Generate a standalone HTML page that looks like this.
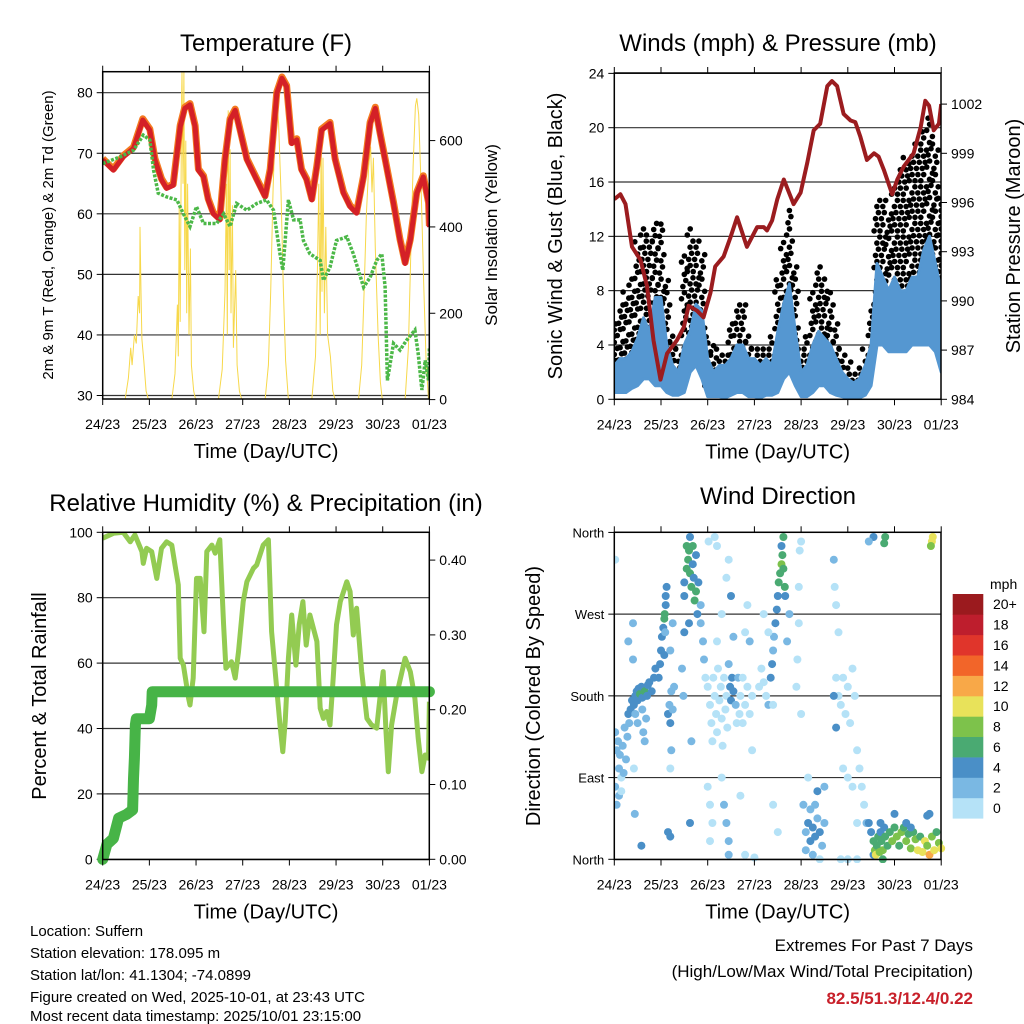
<!DOCTYPE html>
<html><head><meta charset="utf-8"><style>
html,body{margin:0;padding:0;background:#fff;}
svg{display:block;font-family:"Liberation Sans",Arial,sans-serif;}
</style></head><body>
<svg id="s" width="1024" height="1024" viewBox="0 0 1024 1024" xmlns="http://www.w3.org/2000/svg">
<defs>
<clipPath id="c1"><rect x="102.7" y="71.7" width="326.6" height="327.5"/></clipPath>
<clipPath id="c2"><rect x="614.3" y="73" width="326.7" height="326.5"/></clipPath>
<clipPath id="c3"><rect x="102.7" y="532.3" width="326.6" height="327.2"/></clipPath>
<clipPath id="c4"><rect x="614.3" y="527" width="331" height="336"/></clipPath>
</defs>
<g><text x="266" y="51" font-size="24" text-anchor="middle">Temperature (F)</text></g>
<g><text x="778" y="51" font-size="24" text-anchor="middle">Winds (mph) &amp; Pressure (mb)</text></g>
<g><text x="266" y="511" font-size="24" text-anchor="middle">Relative Humidity (%) &amp; Precipitation (in)</text></g>
<g><text x="778" y="504" font-size="24" text-anchor="middle">Wind Direction</text></g>
<g id="g1"></g>
<g id="g2"></g>
<g id="g3"></g>
<g id="g4"></g>
<g font-size="15">
<text x="30" y="936">Location: Suffern</text>
<text x="30" y="958">Station elevation: 178.095 m</text>
<text x="30" y="980">Station lat/lon: 41.1304; -74.0899</text>
<text x="30" y="1002">Figure created on Wed, 2025-10-01, at 23:43 UTC</text>
<text x="30" y="1024" dy="-3">Most recent data timestamp: 2025/10/01 23:15:00</text>
</g>
<g text-anchor="end" font-size="17">
<text x="973" y="951">Extremes For Past 7 Days</text>
<text x="973" y="977">(High/Low/Max Wind/Total Precipitation)</text>
<text x="973" y="1004" fill="#c8202a" font-weight="bold">82.5/51.3/12.4/0.22</text>
</g>
</svg>
<script>
// ---------- DATA ----------
const dayLabels = ["24/23","25/23","26/23","27/23","28/23","29/23","30/23","01/23"];
const tempT = [0,.23,.44,.66,.86,1.01,1.12,1.26,1.37,1.51,1.66,1.76,1.87,1.98,2.05,2.16,2.26,2.37,2.51,2.62,2.73,2.84,2.94,3.09,3.3,3.48,3.59,3.73,3.84,3.94,4.05,4.16,4.26,4.37,4.48,4.59,4.69,4.87,4.98,5.16,5.3,5.44,5.59,5.73,5.84,5.94,6.05,6.23,6.37,6.48,6.59,6.73,6.87,6.98,7.0];
const tempVal = [68.9,67.2,69.4,70.8,75.5,73.8,68.9,65.6,64.2,64.7,74.4,77.4,78,74.4,67.2,66.1,62.3,60,59,68.9,75.5,77.1,73.8,68.9,65.6,62.8,67.2,79.9,82.4,81,71.6,72.2,67.2,65.6,62.3,67.8,73.8,74.9,68.9,63.4,61.2,60.1,66.1,74.9,77.4,73.3,68.9,61.7,55.6,51.8,55.6,63.4,66.1,61.7,57.8];
const dewT = [0,.37,.66,.87,1.01,1.09,1.19,1.37,1.59,1.73,1.87,2.01,2.16,2.44,2.59,2.73,2.87,3.09,3.3,3.51,3.66,3.8,3.86,3.98,4.09,4.23,4.3,4.44,4.66,4.73,4.87,5.01,5.23,5.37,5.59,5.73,5.87,5.98,6.05,6.1,6.23,6.37,6.51,6.69,6.76,6.84,6.91,6.98,7.0];
const dewVal = [68.3,69.4,70.5,73,72.2,67.2,63.4,62.8,62.3,60,57.9,61.2,58.4,58.4,60,57.9,61.7,60.6,61.7,62.3,60.6,53.4,50.7,62.3,59,59,55.6,53.4,52.3,49,51.2,55.6,56.2,53.4,47.9,49.5,52.3,53.4,47.9,32.5,38.6,37.5,39.1,40.8,36.9,30.9,35.8,32.5,38];
const solarT = [0.48,0.55,0.6,0.63,0.68,0.72,0.76,0.79,0.8,0.82,0.84,0.88,0.93,0.98,
 1.48,1.55,1.6,1.62,1.64,1.66,1.69,1.7,1.72,1.74,1.76,1.78,1.8,1.82,1.85,1.88,1.9,1.95,1.99,
 2.48,2.56,2.62,2.65,2.67,2.69,2.71,2.73,2.75,2.78,2.8,2.85,2.88,2.93,2.98,
 3.48,3.55,3.6,3.65,3.7,3.73,3.77,3.82,3.87,3.92,3.98,
 4.48,4.56,4.6,4.63,4.66,4.68,4.7,4.72,4.75,4.78,4.82,4.88,4.93,4.98,
 5.48,5.55,5.6,5.65,5.7,5.74,5.77,5.8,5.84,5.9,5.95,5.99,
 6.48,6.55,6.6,6.65,6.7,6.73,6.77,6.82,6.88,6.93,6.98];
const solarVal = [0,50,120,80,150,130,240,200,400,250,140,90,20,0,
 0,60,220,100,450,180,700,760,500,760,300,600,200,500,150,350,80,20,0,
 0,70,250,500,150,670,300,580,200,450,120,300,80,20,0,
 0,80,250,480,650,694,640,480,260,90,0,
 0,100,300,500,150,632,250,560,200,400,150,100,20,0,
 0,80,250,430,540,586,480,560,350,150,40,0,
 0,120,330,540,680,698,660,500,260,90,0];
const windMeanLo = [.5,.5,.5,.8,1,1.5,1.5,1,1,.5,.3,.3,.5,2,2.5,1.5,.2,.2,.2,.1,.3,.5,.5,.2,.2,.1,.3,.3,.5,1.5,2,1,.2,.2,.5,1,1,.5,.3,.2,.1,.1,.1,.3,1,4,4,3.5,3.5,3.5,3.5,4,4,4,4,3.5,2];
const windMeanHi = [2.5,3,3,3.5,4.5,6,5,7.5,7.5,4,2.5,2,4,5,7,6.5,3,2,2.5,2.5,3,4,4,3,3,2.5,3,2.5,5,7,8.5,5,2,2.5,4,5,4.5,4,3,2,1.5,1.2,1.5,2.5,4,10,9,8,9,8,8,9,9,11,12,10,8];
const gustLo = [1.5,2,2.5,3,3.5,4,4,3.5,3,2,1.5,1,2,4,4,3,1,.8,1,1,1.5,2,2,1.5,1,1,1,1,2.5,3,4,3,1,1,2,3,3,2,1.5,1,.5,.5,.5,1,2,7,7,6,7,7,7,8,8,8,9,8,4];
const gustHi = [6,7,8,9,12,13,12.5,13,13,9,5,4,11,13,12,11,5,4,4,3.5,6,7,7,5,4,4,4,5,9,12,14,10,4,5,8,10,9,8,6,4,3,2,2.5,4,7,15,15,14,16,17,18,18,19,20,21,19,15];
const pressT = [0,.13,.24,.38,.56,.70,.84,.99,1.13,1.34,1.49,1.59,1.77,1.91,2.06,2.16,2.34,2.49,2.63,2.84,3.06,3.2,3.27,3.38,3.49,3.63,3.84,3.99,4.13,4.27,4.41,4.56,4.66,4.77,4.91,5.06,5.16,5.27,5.41,5.56,5.66,5.77,5.95,6.06,6.2,6.41,6.56,6.66,6.74,6.84,6.95,7.0];
const pressVal = [996.2,996.5,995.9,993.3,992.5,990.9,987.6,985.2,986.8,987.6,988.4,989.7,989.4,989.0,990.5,992.1,992.7,993.9,995.1,993.3,994.5,994.5,994.3,994.9,996.2,997.4,995.9,996.6,998.4,1000.4,1000.8,1003.1,1003.4,1003.1,1001.4,1001.0,1000.9,1000.0,998.6,999.0,998.8,998.0,996.5,997.4,998.2,999.0,1000.6,1002.2,1001.9,1000.4,1000.8,1002.0];
const rhT = [0,.23,.44,.59,.69,.84,.87,.94,1.05,1.16,1.26,1.37,1.48,1.55,1.62,1.66,1.73,1.84,1.87,1.94,2.01,2.09,2.17,2.23,2.34,2.41,2.51,2.59,2.64,2.76,2.84,2.91,3.01,3.09,3.23,3.3,3.44,3.55,3.62,3.69,3.8,3.86,3.91,3.98,4.05,4.14,4.21,4.29,4.36,4.44,4.59,4.66,4.73,4.8,4.87,4.94,5.01,5.09,5.23,5.3,5.37,5.44,5.55,5.66,5.76,5.87,5.94,6.01,6.07,6.12,6.19,6.3,6.48,6.59,6.69,6.76,6.84,6.91,6.98,7.0];
const rhVal = [98.2,99.7,100,97.1,99.2,94.1,90.5,95.1,94.1,85.9,95.1,97.1,96.1,90,83.9,61.5,59.4,49.2,47.2,55.4,85.9,85.9,69.6,94.1,96.1,93.6,97.7,71.7,58.4,60.4,55.4,63.5,78.8,84.9,89,90,96.1,97.7,69.6,58.4,41.1,32.9,42.1,61.5,74.7,59.4,71.7,78.8,65.5,74.7,66.6,46.2,43.1,45.2,41.1,55.4,71.7,78.8,84.9,81.9,68.6,76.8,57.4,43.1,41.1,40.1,49.2,57.4,39,26.8,41.1,50.3,61.5,57.4,49.2,37,26.8,31.9,30.9,48.2];
const precipT = [0,.09,.23,.34,.51,.64,.66,.68,.70,.72,1.0,1.05,1.06,7.0];
const precipVal = [0,.02,.028,.055,.06,.066,.108,.135,.18,.188,.188,.206,.224,.224];
const dirT = [0.02,0.02,0.05,0.08,0.1,0.12,0.15,0.18,0.2,0.22,0.25,0.28,0.3,0.32,0.35,0.38,0.05,0.1,0.15,0.02,0.4,0.4,
0.42,0.45,0.48,0.5,0.52,0.55,0.58,0.6,0.65,0.7,0.72,0.75,0.8,0.85,0.88,0.6,0.62,0.65,0.68,0.45,0.5,0.3,0.42,0.44,0.58,
0.98,1.0,1.02,1.05,1.07,1.08,1.1,1.1,1.12,1.09,1.07,0.95,
1.15,1.18,1.2,1.22,1.25,1.28,1.2,1.25,1.22,1.2,1.15,
1.5,1.5,1.55,1.58,1.6,1.62,1.65,1.68,1.7,1.72,1.75,1.78,1.8,1.55,1.62,1.68,1.75,1.85,1.85,1.9,1.92,1.95,1.6,1.5,1.45,1.48,1.65,1.62,1.2,
2.0,2.05,2.08,2.1,2.12,2.15,2.18,2.2,2.22,2.25,2.28,2.3,2.32,2.35,2.38,2.4,2.42,2.45,2.48,2.5,2.52,2.55,2.6,2.62,2.65,2.68,2.0,2.05,2.1,2.05,2.02,2.15,2.2,2.3,2.35,2.4,2.45,2.45,2.55,2.5,2.4,2.45,2.3,2.2,
2.7,2.75,2.8,2.85,2.9,2.95,2.75,2.8,2.85,2.9,2.95,2.7,2.8,3.0,
3.35,3.38,3.4,3.42,3.45,3.48,3.5,3.52,3.55,3.58,3.6,3.62,3.65,3.66,3.58,3.62,3.3,3.25,3.2,3.1,3.15,3.3,3.2,3.4,3.7,3.75,3.4,3.5,
3.9,3.92,3.95,3.95,3.97,4.0,4.0,4.05,4.1,4.15,4.2,4.25,4.3,4.35,4.4,4.45,4.5,4.2,4.3,4.1,4.25,4.4,4.15,4.35,4.5,
4.7,4.72,4.75,4.8,4.75,4.8,4.85,4.9,4.95,5.0,5.05,5.1,5.15,5.2,5.25,5.3,5.35,5.4,4.7,4.75,4.9,5.0,5.1,5.2,5.0,4.85,5.2,5.45,5.5,5.55,5.55,5.45,
5.55,5.58,5.6,5.62,5.65,5.68,5.7,5.72,5.75,5.78,5.8,5.85,5.9,5.95,6.0,6.05,6.1,6.15,6.2,6.25,6.3,6.35,6.4,6.45,6.5,6.55,6.6,6.65,6.7,6.75,6.8,6.85,6.9,6.95,7.0,6.0,6.7,6.75,5.7,5.75,6.8,6.82,6.78,5.8,5.78,6.25,6.35];
const dirVal = [140,80,120,130,100,115,90,125,95,145,110,135,160,150,165,175,60,70,75,330,260,220,
170,180,185,175,188,182,190,178,185,180,192,195,185,200,210,165,140,130,155,160,150,240,100,50,15,
215,230,245,255,265,270,280,290,300,250,225,200,
160,170,150,185,165,190,230,260,120,100,30,
290,305,320,330,340,315,300,325,310,285,295,270,305,345,355,345,335,280,260,240,220,200,260,250,210,180,130,40,25,
190,170,150,130,200,180,160,140,210,175,190,155,125,200,165,180,145,215,190,175,200,185,170,150,200,160,80,60,40,20,350,355,345,90,60,40,20,5,245,290,310,330,270,240,
180,200,170,190,160,180,150,250,280,240,120,70,5,2,
200,215,230,245,260,275,290,305,315,325,335,320,300,290,345,355,170,180,195,190,210,250,270,170,240,270,60,30,
190,220,260,300,340,350,160,60,30,40,20,35,25,45,30,15,40,55,60,10,5,0,90,75,80,
330,300,280,250,200,180,170,200,160,190,150,210,180,120,100,80,60,40,180,145,100,90,80,40,0,0,0,40,30,5,355,350,
20,10,5,15,25,8,30,20,10,35,25,15,30,20,35,25,15,30,35,20,28,12,30,22,10,25,8,20,15,5,25,10,30,18,12,50,48,50,40,0,350,355,345,355,348,40,35];
const dirSpd = [2,2,2,2,2,2,0,2,2,2,2,2,4,2,4,4,2,2,0,0,2,2,
4,4,4,4,4,6,4,4,6,4,4,4,4,4,4,2,2,2,2,2,2,2,0,2,4,
4,4,4,4,6,6,4,4,4,2,4,4,
4,2,4,2,2,2,2,2,2,0,4,
4,4,6,6,6,6,6,4,4,6,6,4,4,6,4,6,4,2,2,2,2,0,4,4,2,2,2,4,4,
0,0,0,0,0,0,0,0,0,0,0,0,0,0,0,0,0,2,4,4,4,4,2,0,2,0,0,0,0,0,0,0,0,0,2,2,2,2,2,4,0,0,0,0,
0,0,0,0,0,0,0,0,0,2,0,0,0,0,
4,4,2,2,4,4,4,6,6,8,6,6,6,4,4,6,2,0,0,0,0,0,0,0,2,2,0,0,
0,0,0,0,0,0,0,2,2,4,4,4,4,2,4,2,2,2,2,2,2,0,0,4,2,
2,0,0,0,0,0,0,0,0,0,0,0,0,0,0,0,0,2,4,4,0,0,0,0,0,0,0,4,4,4,4,2,
6,8,10,6,6,8,4,6,8,4,6,6,6,8,6,8,6,8,6,8,6,8,6,8,10,6,10,10,8,12,8,10,6,8,10,4,4,4,4,6,10,10,8,6,6,4,4];
const spdLabels = ["0","2","4","6","8","10","12","14","16","18","20+"];
const spdColors = ["#b5e2f7","#7ab8e3","#4a8fc7","#4aaa72","#7dc24b","#e8e25a","#f8a848","#f26529","#e0352b","#be1e2d","#9b1a1e"];

// ---------- helpers ----------
const NS="http://www.w3.org/2000/svg";
function mk(parent,tag,attrs,txt){const e=document.createElementNS(NS,tag);for(const k in attrs)e.setAttribute(k,attrs[k]);if(txt!==undefined)e.textContent=txt;parent.appendChild(e);return e;}
function pts(ts,vs,fx,fy){return ts.map((t,i)=>fx(t).toFixed(1)+","+fy(vs[i]).toFixed(1)).join(" ");}

function frame(g,x0,x1,y0,y1,fx){
  for(let d=0;d<=7;d++){
    const x=fx(d);
    mk(g,"line",{x1:x,x2:x,y1:y0-6,y2:y0,stroke:"#000","stroke-width":1});
    mk(g,"line",{x1:x,x2:x,y1:y1,y2:y1+6,stroke:"#000","stroke-width":1});
    const t=mk(g,"text",{x:x,y:y1+30,"font-size":14,"text-anchor":"middle"},dayLabels[d]);
    
    
  }
  const r=mk(g,"rect",{x:x0,y:y0,width:x1-x0,height:y1-y0,fill:"none",stroke:"#000","stroke-width":1.5});
  
  
  const xl=mk(g,"text",{x:(x0+x1)/2,y:y1+59,"font-size":20,"text-anchor":"middle"},"Time (Day/UTC)");
  
  
}
function hgrid(g,x0,x1,ys){ys.forEach(y=>{const l=mk(g,"line",{x1:x0,x2:x1,y1:y,y2:y,stroke:"#333","stroke-width":1.2});});}
function leftTicks(g,x0,ys,labels,fs){ys.forEach((y,i)=>{mk(g,"line",{x1:x0-6,x2:x0,y1:y,y2:y,stroke:"#000"});const t=mk(g,"text",{x:x0-10,y:y+5,"font-size":fs||14,"text-anchor":"end"},labels[i]);});}
function rightTicks(g,x1,ys,labels,fs){ys.forEach((y,i)=>{mk(g,"line",{x1:x1,x2:x1+6,y1:y,y2:y,stroke:"#000"});const t=mk(g,"text",{x:x1+10,y:y+5,"font-size":fs||14,"text-anchor":"start"},labels[i]);});}
function vlabel(g,x,y,txt,fs,name){const t=mk(g,"text",{x:x,y:y,"font-size":fs,"text-anchor":"middle",transform:`rotate(-90 ${x} ${y})`},txt);}

// ---------- Panel 1: Temperature ----------
(function(){
  const g=document.getElementById("g1");
  const X0=102.7,X1=429.3,Y0=71.7,Y1=399;
  const fx=t=>X0+t*46.67, fT=v=>395.5-(v-30)*6.056, fS=v=>399.6-v*0.4317;
  const tv=[30,40,50,60,70,80];
  hgrid(g,X0,X1,tv.map(fT));
  leftTicks(g,X0,tv.map(fT),tv.map(String));
  const sv=[0,200,400,600];
  rightTicks(g,X1,sv.map(fS),sv.map(String));
  const c=mk(g,"g",{"clip-path":"url(#c1)"});
  const s=mk(c,"polyline",{points:pts(solarT,solarVal,fx,fS),fill:"none",stroke:"#f7d84a","stroke-width":1});
  
  
  const o=mk(c,"polyline",{points:pts(tempT,tempVal,fx,fT),fill:"none",stroke:"#f47a20","stroke-width":7,"stroke-linejoin":"round",transform:"translate(0,-1.2)"});
  
  
  const r=mk(c,"polyline",{points:pts(tempT,tempVal,fx,fT),fill:"none",stroke:"#d42027","stroke-width":5,"stroke-linejoin":"round"});
  
  
  const d=mk(c,"polyline",{points:pts(dewT,dewVal,fx,fT),fill:"none",stroke:"#4cb848","stroke-width":3.5,"stroke-dasharray":"3 1.5"});
  
  
  frame(g,X0,X1,Y0,Y1,fx);
  vlabel(g,53,235,"2m & 9m T (Red, Orange) & 2m Td (Green)",15,"y-axis-title");
  vlabel(g,497,235,"Solar Insolation (Yellow)",17,"y2-axis-title");
})();

// ---------- Panel 2: Winds ----------
(function(){
  const g=document.getElementById("g2");
  const X0=614.3,X1=941,Y0=73,Y1=399.3;
  const fx=t=>X0+t*46.7, fW=v=>399.3-v*13.58, fP=p=>399.3-(p-984)*16.4;
  const wv=[0,4,8,12,16,20,24];
  hgrid(g,X0,X1,wv.map(fW));
  leftTicks(g,X0,wv.map(fW),wv.map(String));
  const pv=[984,987,990,993,996,999,1002];
  rightTicks(g,X1,pv.map(fP),pv.map(String));
  const c=mk(g,"g",{"clip-path":"url(#c2)"});
  const gg=mk(c,"g",{fill:"#000"});
  
  
  const bw=1/8;
  for(let i=0;i<gustLo.length;i++){
    for(let k=0;k<2;k++){
      const t=(i-0.25+k*0.5)*bw;
      let row=0;
      for(let v=gustLo[i]+k*0.45;v<=gustHi[i];v+=0.9){
        const dx=((row%3)-1)*0.03;
        row++;
        mk(gg,"circle",{cx:fx(Math.max(0,Math.min(7,t+dx))).toFixed(1),cy:fW(v).toFixed(1),r:2.8});
      }
    }
  }
  const up=windMeanHi.map((v,i)=>fx(i*bw).toFixed(1)+","+fW(v).toFixed(1));
  const lo=windMeanLo.map((v,i)=>fx(i*bw).toFixed(1)+","+fW(v).toFixed(1)).reverse();
  const band=mk(c,"polygon",{points:up.concat(lo).join(" "),fill:"#5597d1",stroke:"#5597d1","stroke-width":3,"stroke-linejoin":"round"});
  
  
  const pl=mk(c,"polyline",{points:pts(pressT,pressVal,fx,fP),fill:"none",stroke:"#9b1c1f","stroke-width":4,"stroke-linejoin":"round"});
  
  
  frame(g,X0,X1,Y0,Y1,fx);
  vlabel(g,562,236,"Sonic Wind & Gust (Blue, Black)",20,"y-axis-title");
  vlabel(g,1020,236,"Station Pressure (Maroon)",20,"y2-axis-title");
})();

// ---------- Panel 3: RH & Precip ----------
(function(){
  const g=document.getElementById("g3");
  const X0=102.7,X1=429.3,Y0=532.3,Y1=859.5;
  const fx=t=>X0+t*46.67, fR=v=>859.3-v*3.27, fPr=v=>859.3-v*748;
  const rv=[0,20,40,60,80,100];
  hgrid(g,X0,X1,rv.map(fR));
  leftTicks(g,X0,rv.map(fR),rv.map(String));
  const pv=[0,0.1,0.2,0.3,0.4];
  rightTicks(g,X1,pv.map(fPr),pv.map(v=>v.toFixed(2)));
  const c=mk(g,"g",{"clip-path":"url(#c3)"});
  const rl=mk(c,"polyline",{points:pts(rhT,rhVal,fx,fR),fill:"none",stroke:"#93cb52","stroke-width":5,"stroke-linejoin":"round"});
  
  
  const pr=mk(g,"polyline",{points:pts(precipT,precipVal,fx,fPr),fill:"none",stroke:"#47b447","stroke-width":11,"stroke-linejoin":"round","stroke-linecap":"round"});
  
  
  frame(g,X0,X1,Y0,Y1,fx);
  vlabel(g,46,696,"Percent & Total Rainfall",20,"y-axis-title");
})();

// ---------- Panel 4: Wind direction ----------
(function(){
  const g=document.getElementById("g4");
  const X0=614.3,X1=941,Y0=532.3,Y1=859.5;
  const fx=t=>X0+t*46.7, fD=d=>859.3-d*0.908;
  const dv=[0,90,180,270,360], dl=["North","East","South","West","North"];
  hgrid(g,X0,X1,dv.map(fD));
  leftTicks(g,X0,dv.map(fD),dl,13);
  const c=mk(g,"g",{"clip-path":"url(#c4)"});
  for(let i=0;i<dirT.length;i++){
    const lvl=Math.min(10,Math.round(dirSpd[i]/2));
    const p=mk(c,"circle",{cx:fx(dirT[i]).toFixed(1),cy:fD(dirVal[i]).toFixed(1),r:4,fill:spdColors[lvl]});
    
    
  }
  frame(g,X0,X1,Y0,Y1,fx);
  vlabel(g,540,696,"Direction (Colored By Speed)",20,"y-axis-title");
  const cb=mk(g,"g",{});
  
  
  const h=(818.3-594)/11;
  mk(cb,"text",{x:990,y:589,"font-size":14},"mph");
  for(let k=0;k<11;k++){
    const y=818.3-(k+1)*h;
    const r=mk(cb,"rect",{x:952.7,y:y.toFixed(1),width:30.6,height:(h+0.3).toFixed(1),fill:spdColors[k]});
    
    
    const t=mk(cb,"text",{x:993,y:(y+h/2+5).toFixed(1),"font-size":14},spdLabels[k]);
    
    
  }
})();
</script>
</body></html>
